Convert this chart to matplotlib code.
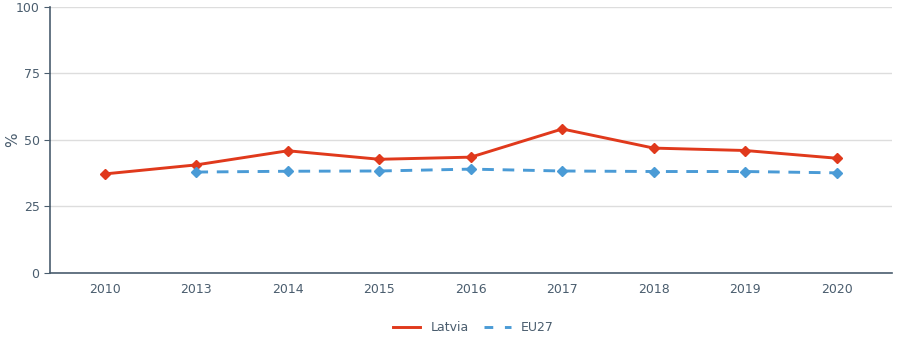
import matplotlib.pyplot as plt
import numpy as np

years = ["2010", "2013", "2014", "2015", "2016", "2017", "2018", "2019", "2020"]
latvia = [37.2, 40.6, 45.9, 42.7, 43.5, 54.1, 46.9, 46.0, 43.1]
eu27 = [np.nan, 37.9, 38.2, 38.3, 39.0, 38.3, 38.1, 38.1, 37.6]

axis_col = "#4a5d6e"
red = "#e0391c"
blue = "#4a9bd6"

fig = plt.figure(figsize=(9, 3.6), dpi=100)
ax = fig.add_axes([0.0556, 0.242, 0.935, 0.739])

x = np.arange(len(years))
ax.plot(x, latvia, color=red, lw=2.1, marker="D", ms=5.5, label="Latvia", zorder=3)
ax.plot(x, eu27, color=blue, lw=2.1, ls=(0, (4, 3)), marker="D", ms=5.5, label="EU27", zorder=3)

ax.set_xlim(-0.6, len(years) - 0.4)
ax.set_ylim(0, 100)
ax.set_xticks(x)
ax.set_xticklabels(years)
ax.set_yticks([0, 25, 50, 75, 100])
ax.set_ylabel("%", color=axis_col, fontsize=11)
ax.yaxis.set_label_coords(-0.036, 0.5)

ax.grid(axis="y", color="#dddddd", lw=1)
ax.set_axisbelow(True)
for s in ["top", "right"]:
    ax.spines[s].set_visible(False)
for s in ["left", "bottom"]:
    ax.spines[s].set_color(axis_col)
    ax.spines[s].set_linewidth(1.2)
ax.tick_params(axis="both", colors=axis_col, labelcolor=axis_col, labelsize=9, length=4)
ax.tick_params(axis="x", length=0, pad=7)

h1 = plt.Line2D([], [], color=red, lw=2.1)
h2 = plt.Line2D([], [], color=blue, lw=2.1, ls=(0, (3, 4)))
fig.legend([h1, h2], ["Latvia", "EU27"], loc="center", bbox_to_anchor=(0.526, 0.09),
           ncol=2, frameon=False, fontsize=9, labelcolor=axis_col, handlelength=2.2,
           columnspacing=1.2)

fig.savefig("out.png", dpi=100)
